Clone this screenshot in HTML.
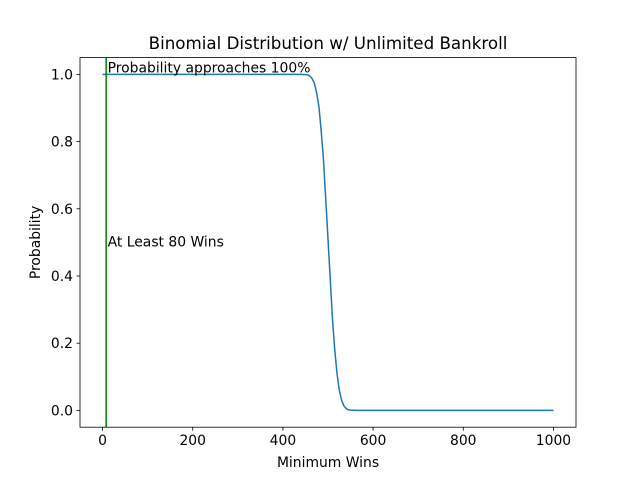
<!DOCTYPE html>
<html><head><meta charset="utf-8"><style>
body{margin:0;background:#fff}
svg{display:block;font-family:"DejaVu Sans","Liberation Sans",sans-serif}
</style></head><body>
<svg id="chart" width="640" height="480">
<rect x="0" y="0" width="640" height="480" fill="#fff"/>
<text x="328" y="49" font-size="16.7" text-anchor="middle">Binomial Distribution w/ Unlimited Bankroll</text>
<g id="plot"></g>
<text x="328" y="467" font-size="13.9" text-anchor="middle">Minimum Wins</text>
<text transform="translate(40,242.4) rotate(-90)" font-size="13.9" text-anchor="middle">Probability</text>
</svg>
<script>
const winsK=[0,440,450,455,460,465,470,475,480,485,490,495,500,505,510,515,520,525,530,535,540,545,550,560,570,1000];
const probs=[1,1,0.9995,0.999,0.995,0.987,0.973,0.943,0.903,0.83,0.745,0.63,0.51,0.39,0.27,0.18,0.11,0.06,0.031,0.014,0.006,0.002,0.0009,0.0001,0,0];
const xTicks=[0,200,400,600,800,1000];
const yTicks=[0,0.2,0.4,0.6,0.8,1.0];
const markerX=8;
const L=80,R=576,T=57.6,B=427.2;
const xMin=-50,xMax=1050,yMin=-0.05,yMax=1.05;
const sx=v=>L+(v-xMin)/(xMax-xMin)*(R-L);
const sy=v=>B-(v-yMin)/(yMax-yMin)*(B-T);
const NS="http://www.w3.org/2000/svg";
const g=document.getElementById('plot');
function mk(tag,attrs){const e=document.createElementNS(NS,tag);for(const k in attrs)e.setAttribute(k,attrs[k]);g.appendChild(e);return e;}
const pts=winsK.map((k,i)=>sx(k)+","+sy(probs[i])).join(" ");
const line=mk('polyline',{points:pts,fill:"none",stroke:"#1f77b4","stroke-width":1.5});


const vl=mk('line',{x1:sx(markerX),x2:sx(markerX),y1:T,y2:B,stroke:"#008000","stroke-width":1.5});


const fr=mk('rect',{x:L,y:T,width:R-L,height:B-T,fill:"none",stroke:"#000","stroke-width":0.8});


xTicks.forEach(v=>{
  const t=mk('line',{x1:sx(v),x2:sx(v),y1:B,y2:B+3.5,stroke:"#000","stroke-width":0.8});
  
  
  const l=mk('text',{x:sx(v),y:B+18,"font-size":13.9,"text-anchor":"middle"});
  l.textContent=String(v);
  
  
});
yTicks.forEach(v=>{
  const t=mk('line',{x1:L-3.5,x2:L,y1:sy(v),y2:sy(v),stroke:"#000","stroke-width":0.8});
  
  
  const l=mk('text',{x:L-7,y:sy(v)+5,"font-size":13.9,"text-anchor":"end"});
  l.textContent=v.toFixed(1);
  
  
});
const a1=mk('text',{x:sx(markerX)+1.5,y:sy(1.0)-2,"font-size":13.9});
a1.textContent="Probability approaches 100%";


const a2=mk('text',{x:sx(markerX)+1.5,y:sy(0.5)+4,"font-size":13.9});
a2.textContent="At Least 80 Wins";


</script>
</body></html>
